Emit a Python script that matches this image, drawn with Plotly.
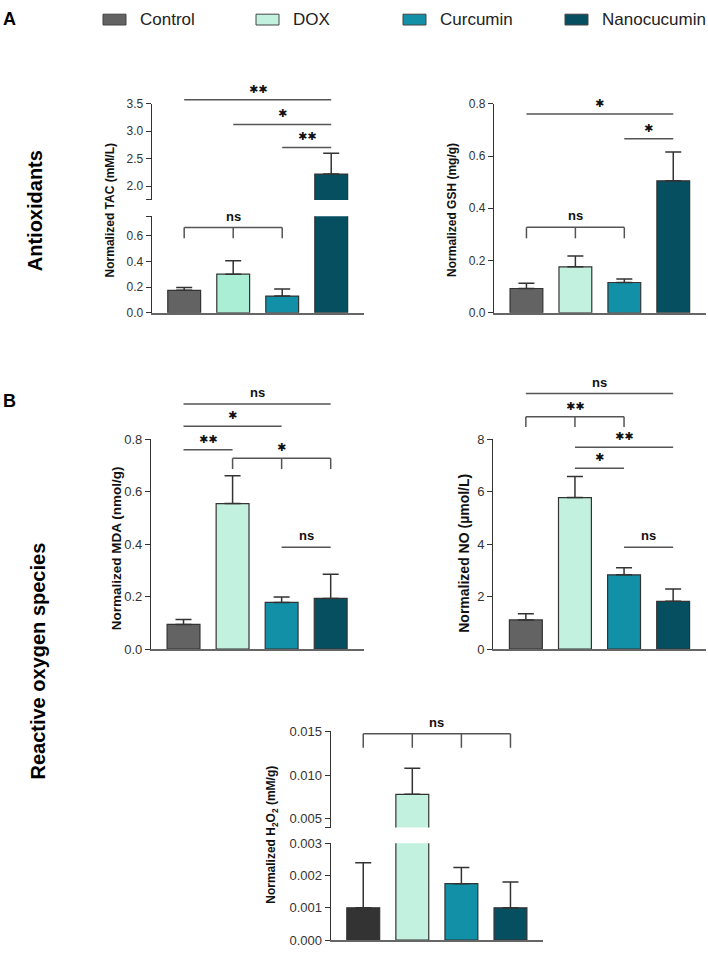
import plotly.graph_objects as go

# ---------------- data ----------------
groups = ["Control", "DOX", "Curcumin", "Nanocucumin"]

tac_mean = [0.175, 0.30, 0.13, 2.22]
tac_err = [0.022, 0.105, 0.055, 0.38]
gsh_mean = [0.093, 0.176, 0.116, 0.505]
gsh_err = [0.020, 0.041, 0.013, 0.110]
mda_mean = [0.094, 0.555, 0.178, 0.193]
mda_err = [0.019, 0.106, 0.021, 0.092]
no_mean = [1.11, 5.78, 2.83, 1.82]
no_err = [0.24, 0.80, 0.27, 0.47]
h2o2_mean = [0.0010, 0.0078, 0.00175, 0.0010]
h2o2_err = [0.0014, 0.0030, 0.0005, 0.0008]

tac_low_ticks = [0, 0.2, 0.4, 0.6]
tac_low_text = ["0.0", "0.2", "0.4", "0.6"]
tac_up_ticks = [2.0, 2.5, 3.0, 3.5]
tac_up_text = ["2.0", "2.5", "3.0", "3.5"]
h2o2_low_ticks = [0, 0.001, 0.002, 0.003]
h2o2_low_text = ["0.000", "0.001", "0.002", "0.003"]
h2o2_up_ticks = [0.005, 0.010, 0.015]
h2o2_up_text = ["0.005", "0.010", "0.015"]

# significance: (from, to, level, leg_level or None, label)
tac_sig_up = [(0, 3, 3.572, None, "**"), (1, 3, 3.124, None, "*"), (2, 3, 2.705, None, "**")]
tac_sig_low = [(0, 2, 0.663, 0.579, "ns")]
gsh_sig = [(0, 3, 0.761, None, "*"), (2, 3, 0.666, None, "*"), (0, 2, 0.327, 0.285, "ns")]
mda_sig = [(0, 3, 0.935, None, "ns"), (0, 2, 0.850, None, "*"), (0, 1, 0.760, None, "**"),
           (1, 3, 0.728, 0.687, "*"), (2, 3, 0.388, None, "ns")]
no_sig = [(0, 3, 9.75, None, "ns"), (0, 2, 8.86, 8.47, "**"), (1, 3, 7.70, None, "**"),
          (1, 2, 6.90, None, "*"), (2, 3, 3.88, None, "ns")]
h2o2_sig = [(0, 3, 0.01474, 0.01313, "ns")]

colors_main = ["#636363", "#c3f1e0", "#1190a8", "#064f61"]
colors_tac = ["#636363", "#a9eed5", "#1190a8", "#064f61"]
colors_h2o2 = ["#333333", "#c3f1e0", "#1190a8", "#064f61"]

W, H = 708, 953
FONT = "Liberation Sans, Arial, sans-serif"


def px_x(p):
    return p / W


def px_y(p):
    return 1 - p / H


fig = go.Figure()


def add_bars(mean, err, colors, xa, ya):
    fig.add_trace(go.Bar(
        x=groups, y=mean, width=0.67,
        marker=dict(color=colors, line=dict(color="#333333", width=1.2)),
        error_y=dict(type="data", array=err, arrayminus=[0] * len(err), symmetric=False,
                     color="#333333", thickness=1.5, width=8),
        showlegend=False, xaxis=xa, yaxis=ya, hoverinfo="x+y"))


add_bars(tac_mean, tac_err, colors_tac, "x", "y")
add_bars(tac_mean, tac_err, colors_tac, "x", "y2")
add_bars(gsh_mean, gsh_err, colors_main, "x2", "y3")
add_bars(mda_mean, mda_err, colors_main, "x3", "y4")
add_bars(no_mean, no_err, colors_main, "x4", "y5")
add_bars(h2o2_mean, h2o2_err, colors_h2o2, "x5", "y6")
add_bars(h2o2_mean, h2o2_err, colors_h2o2, "x5", "y7")

xcommon = dict(showticklabels=False, ticks="", showline=True, linecolor="#666666",
               linewidth=1.6, showgrid=False, zeroline=False, range=[-0.663, 3.669],
               type="category", fixedrange=True)


def ycommon(size):
    return dict(showline=True, linecolor="#333333", linewidth=1.2, ticks="outside",
                ticklen=5, tickwidth=1.2, tickcolor="#333333", showgrid=False,
                zeroline=False, tickfont=dict(size=size, color="#333333", family=FONT),
                fixedrange=True)


def brk(vals):
    # unlabeled tick marks at the ends of a broken axis segment
    return dict(minor=dict(tickmode="array", tickvals=vals, ticks="outside", ticklen=5,
                           tickwidth=1.2, tickcolor="#333333", showgrid=False))


layout_axes = {}
xA1 = [px_x(151.7), px_x(364)]
xA2 = [px_x(494), px_x(706)]
xB1 = [px_x(151), px_x(363.5)]
xB2 = [px_x(493.3), px_x(706)]
xH = [px_x(330.7), px_x(543.3)]

layout_axes["xaxis"] = dict(domain=xA1, anchor="y", **xcommon)
layout_axes["xaxis2"] = dict(domain=xA2, anchor="y3", **xcommon)
layout_axes["xaxis3"] = dict(domain=xB1, anchor="y4", **xcommon)
layout_axes["xaxis4"] = dict(domain=xB2, anchor="y5", **xcommon)
layout_axes["xaxis5"] = dict(domain=xH, anchor="y6", **xcommon)

rng_tac_low = [0, 0.75]
rng_tac_up = [1.75, 3.5]
rng_gsh = [0, 0.8]
rng_mda = [0, 0.8]
rng_no = [0, 8]
rng_h_low = [0, 0.003]
rng_h_up = [0.004, 0.015]

layout_axes["yaxis"] = dict(domain=[px_y(310.7), px_y(212.7)], anchor="x", range=rng_tac_low,
                            tickvals=tac_low_ticks, ticktext=tac_low_text,
                            **brk([0.75]), **ycommon(12))
layout_axes["yaxis2"] = dict(domain=[px_y(196), px_y(98.3)], anchor="x", range=rng_tac_up,
                             tickvals=tac_up_ticks, ticktext=tac_up_text,
                             **brk([1.75]), **ycommon(12))
layout_axes["yaxis3"] = dict(domain=[px_y(310.7), px_y(98.3)], anchor="x2", range=rng_gsh,
                             tickvals=[0, 0.2, 0.4, 0.6, 0.8], tickformat=".1f", **ycommon(12))
layout_axes["yaxis4"] = dict(domain=[px_y(652.3), px_y(439.3)], anchor="x3", range=rng_mda,
                             tickvals=[0, 0.2, 0.4, 0.6, 0.8], tickformat=".1f", **ycommon(13))
layout_axes["yaxis5"] = dict(domain=[px_y(652.3), px_y(439.3)], anchor="x4", range=rng_no,
                             tickvals=[0, 2, 4, 6, 8], **ycommon(13))
layout_axes["yaxis6"] = dict(domain=[px_y(948), px_y(849.7)], anchor="x5", range=rng_h_low,
                             tickvals=h2o2_low_ticks, ticktext=h2o2_low_text, **ycommon(13))
layout_axes["yaxis7"] = dict(domain=[px_y(833.7), px_y(736)], anchor="x5", range=rng_h_up,
                             tickvals=h2o2_up_ticks, ticktext=h2o2_up_text,
                             **brk([0.004]), **ycommon(13))

shapes = []
annotations = []


def add_sig(sigs, xa, ya, rng, size):
    for (i, j, lvl, leg, label) in sigs:
        f = (lvl - rng[0]) / (rng[1] - rng[0])
        shapes.append(dict(type="line", xref=xa, yref=ya + " domain", x0=groups[i], x1=groups[j],
                           y0=f, y1=f, line=dict(color="#555555", width=1.5)))
        if leg is not None:
            fl = (leg - rng[0]) / (rng[1] - rng[0])
            for k in range(i, j + 1):
                shapes.append(dict(type="line", xref=xa, yref=ya + " domain", x0=groups[k],
                                   x1=groups[k], y0=f, y1=fl,
                                   line=dict(color="#555555", width=1.5)))
        is_star = label.startswith("*")
        txt = label.replace("*", "\u2731") if is_star else "<b>" + label + "</b>"
        annotations.append(dict(
            xref=xa, yref=ya + " domain", x=(i + j) / 2, y=f, text=txt,
            showarrow=False, xanchor="center", yanchor="bottom",
            yshift=2,
            font=dict(size=11 if is_star else size, color="#111111",
                      family="DejaVu Sans" if is_star else FONT),
        ))


add_sig(tac_sig_up, "x", "y2", rng_tac_up, 13)
add_sig(tac_sig_low, "x", "y", rng_tac_low, 13)
add_sig(gsh_sig, "x2", "y3", rng_gsh, 13)
add_sig(mda_sig, "x3", "y4", rng_mda, 13)
add_sig(no_sig, "x4", "y5", rng_no, 13)
add_sig(h2o2_sig, "x5", "y7", rng_h_up, 13)

# axis titles
ytitles = [
    ("<b>Normalized TAC (mM/L)</b>", 110, 206.7, 12),
    ("<b>Normalized GSH (mg/g)</b>", 452.5, 206.7, 12),
    ("<b>Normalized MDA (nmol/g)</b>", 116, 550, 13.5),
    ("<b>Normalized NO (µmol/L)</b>", 464.5, 555, 14),
    ("<b>Normalized H<sub>2</sub>O<sub>2</sub> (mM/g)</b>", 272, 841, 12),
]
for text, xp, yp, sz in ytitles:
    annotations.append(dict(xref="paper", yref="paper", x=px_x(xp), y=px_y(yp), text=text,
                            textangle=-90, showarrow=False, xanchor="center", yanchor="middle",
                            font=dict(size=sz, color="#111111", family=FONT)))

# row labels and panel letters
annotations.append(dict(xref="paper", yref="paper", x=px_x(35), y=px_y(207.5), text="<b>Antioxidants</b>",
                        textangle=-90, showarrow=False, xanchor="center", yanchor="middle",
                        font=dict(size=20, color="#000000", family=FONT)))
annotations.append(dict(xref="paper", yref="paper", x=px_x(38), y=px_y(665),
                        text="<b>Reactive oxygen species</b>",
                        textangle=-90, showarrow=False, xanchor="center", yanchor="middle",
                        font=dict(size=20, color="#000000", family=FONT)))
annotations.append(dict(xref="paper", yref="paper", x=px_x(1), y=px_y(12), text="<b>A</b>",
                        showarrow=False, xanchor="left", yanchor="middle",
                        font=dict(size=18, color="#000000", family=FONT)))
annotations.append(dict(xref="paper", yref="paper", x=px_x(1), y=px_y(400), text="<b>B</b>",
                        showarrow=False, xanchor="left", yanchor="middle",
                        font=dict(size=18, color="#000000", family=FONT)))

# legend (manual)
legend_x = [103, 256, 403, 565]
for name, col, lx in zip(groups, colors_main, legend_x):
    shapes.append(dict(type="rect", xref="paper", yref="paper", x0=px_x(lx), x1=px_x(lx + 23),
                       y0=px_y(18.3), y1=px_y(7.3), fillcolor=col,
                       line=dict(color="#444444", width=1)))
    annotations.append(dict(xref="paper", yref="paper", x=px_x(lx + 35), y=px_y(12.5), text=name,
                            showarrow=False, xanchor="left", yanchor="middle",
                            font=dict(size=17, color="#222222", family=FONT)))

fig.update_layout(
    width=W, height=H, autosize=False,
    margin=dict(l=0, r=0, t=0, b=0, pad=0),
    paper_bgcolor="white", plot_bgcolor="white",
    font=dict(family=FONT, color="#333333"),
    shapes=shapes, annotations=annotations, bargap=0.33,
    **layout_axes,
)

fig.write_html("out.html", config={"displayModeBar": False},
               post_script="document.body.style.margin='0';document.body.style.overflow='hidden';")
